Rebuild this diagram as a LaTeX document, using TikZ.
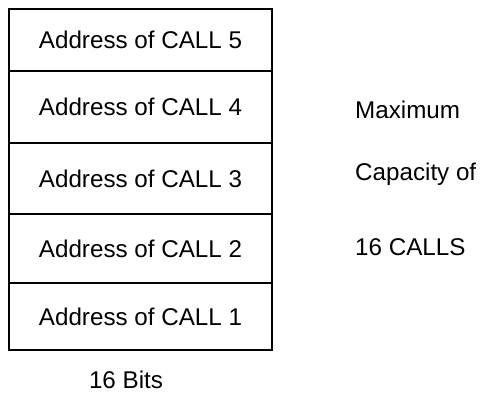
\documentclass[tikz,border=0pt]{standalone}
\usepackage{fontspec}
\setmainfont{Liberation Sans}
\begin{document}
\begin{tikzpicture}[x=1pt,y=-1pt,
  cell/.style={draw=black, line width=1.5pt, inner sep=0pt,
    minimum width=263pt, anchor=center,
    font=\fontsize{24.2}{28}\selectfont},
  note/.style={inner sep=0pt, anchor=base west,
    font=\fontsize{24.2}{28}\selectfont}]
  \fill[white] (0,0) rectangle (480,396);
  \useasboundingbox (0,0) rectangle (480,396);

  % stack of return addresses, top entry first
  \node[cell, minimum height=62pt] (r5) at (140.5,40)    {Address of CALL 5};
  \node[cell, minimum height=72pt] (r4) at (140.5,107)   {Address of CALL 4};
  \node[cell, minimum height=71pt] (r3) at (140.5,178.5) {Address of CALL 3};
  \node[cell, minimum height=69pt] (r2) at (140.5,248.5) {Address of CALL 2};
  \node[cell, minimum height=67pt] (r1) at (140.5,316.5) {Address of CALL 1};

  % side note on the stack depth
  \node[note] (maxi) at (355,119) {Maximum};
  \node[note] (capa) at (355,180) {Capacity of};
  \node[note] (calls) at (355,255) {16 CALLS};

  % word width below the stack
  \node[note, anchor=base] (bits) at (126,388) {16 Bits};
\end{tikzpicture}
\end{document}
